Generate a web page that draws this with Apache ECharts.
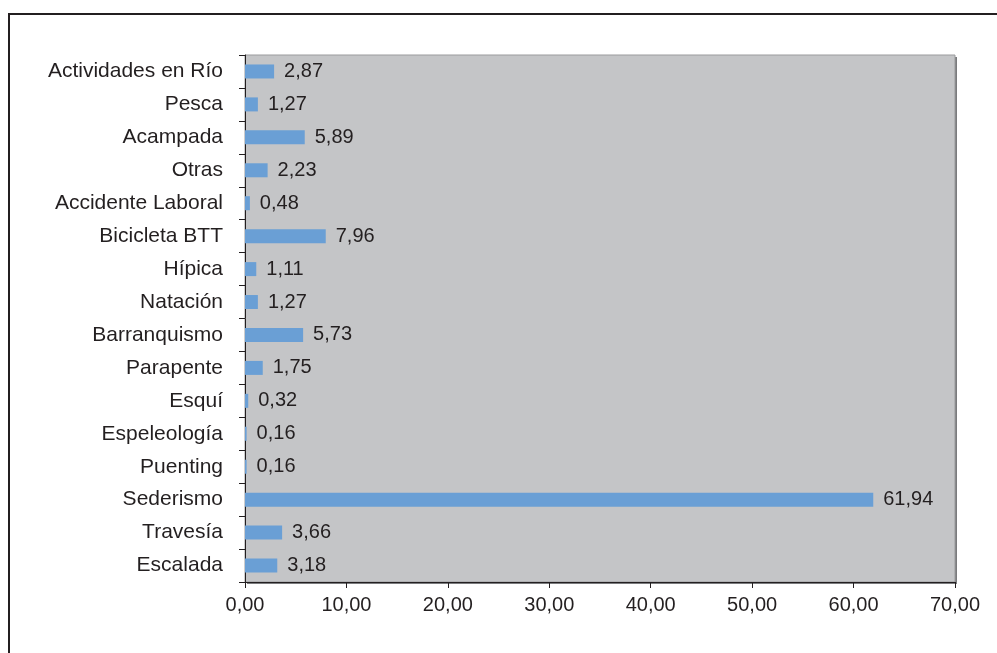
<!DOCTYPE html>
<html>
<head>
<meta charset="utf-8">
<script src="https://cdn.jsdelivr.net/npm/echarts@6/dist/echarts.min.js"></script>
<style>
  html, body { margin: 0; padding: 0; background: #fff; }
  #main { width: 997px; height: 653px; }
</style>
</head>
<body>
<div id="main"></div>
<script>
// categories listed bottom to top, as the category axis draws them
const categories = ['Escalada', 'Travesía', 'Sederismo', 'Puenting', 'Espeleología', 'Esquí',
  'Parapente', 'Barranquismo', 'Natación', 'Hípica', 'Bicicleta BTT', 'Accidente Laboral',
  'Otras', 'Acampada', 'Pesca', 'Actividades en Río'];
const values = [3.18, 3.66, 61.94, 0.16, 0.16, 0.32, 1.75, 5.73, 1.27, 1.11, 7.96, 0.48,
  2.23, 5.89, 1.27, 2.87];

const fmt = v => v.toFixed(2).replace('.', ',');
const font = 'Liberation Sans, Arial, sans-serif';

const chart = echarts.init(document.getElementById('main'));
chart.setOption({
  animation: false,
  backgroundColor: '#fff',
  textStyle: { fontFamily: font },
  graphic: [
    {
      type: 'rect', silent: true, z: -10,
      shape: { x: 9, y: 14, width: 1000, height: 700 },
      style: { fill: 'none', stroke: '#231f20', lineWidth: 2 }
    },
    {
      type: 'rect', silent: true, z: -5,
      shape: { x: 247, y: 57, width: 710, height: 527 },
      style: { fill: '#7a7b7d' }
    }
  ],
  grid: {
    left: 245, right: 42, top: 55, bottom: 71,
    show: true, backgroundColor: '#c4c5c7', borderColor: '#9a9b9d', borderWidth: 1
  },
  xAxis: {
    type: 'value', min: 0, max: 70, interval: 10,
    axisLine: { show: true, lineStyle: { color: '#231f20', width: 1 } },
    axisTick: { show: true, length: 6, lineStyle: { color: '#231f20' } },
    splitLine: { show: false },
    axisLabel: { formatter: fmt, color: '#231f20', fontSize: 20, margin: 13, fontFamily: font }
  },
  yAxis: {
    type: 'category', data: categories,
    axisLine: { show: true, lineStyle: { color: '#231f20', width: 1 } },
    axisTick: { show: true, length: 6, lineStyle: { color: '#231f20' } },
    axisLabel: { color: '#231f20', fontSize: 21, margin: 22, fontFamily: font }
  },
  series: [{
    type: 'bar',
    data: values,
    barWidth: 14,
    itemStyle: { color: '#6a9fd5' },
    label: {
      show: true, position: 'right', distance: 10,
      formatter: p => fmt(p.value),
      color: '#231f20', fontSize: 20, fontFamily: font
    }
  }]
});
</script>
</body>
</html>
